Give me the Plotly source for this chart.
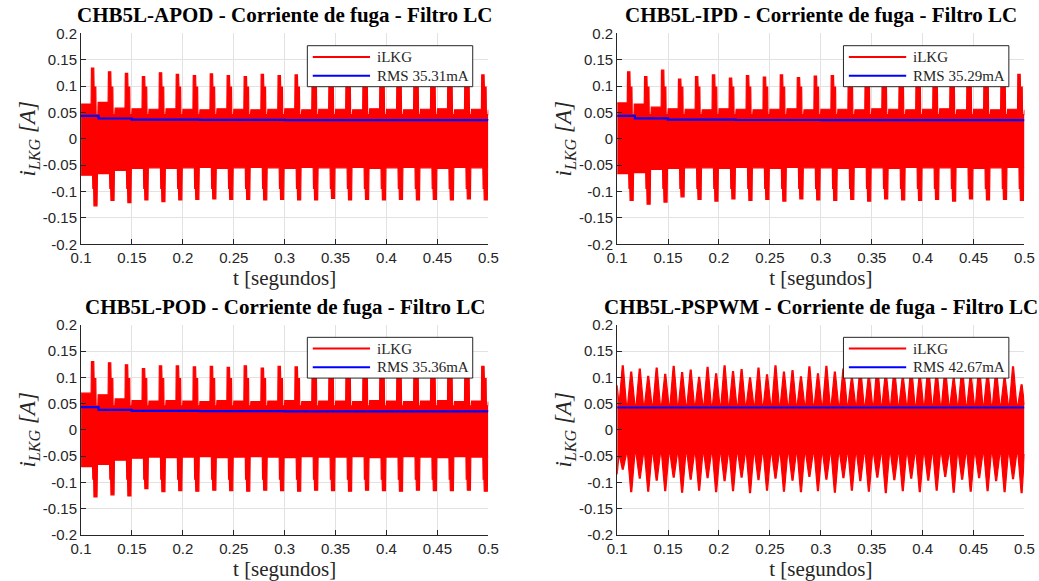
import plotly.graph_objects as go

# ---------------------------------------------------------------- data
T0, T1 = 0.1, 0.5

x_tick_vals = [0.1, 0.15, 0.2, 0.25, 0.3, 0.35, 0.4, 0.45, 0.5]
x_tick_text = ["0.1", "0.15", "0.2", "0.25", "0.3", "0.35", "0.4", "0.45", "0.5"]
y_tick_vals = [-0.2, -0.15, -0.1, -0.05, 0, 0.05, 0.1, 0.15, 0.2]
y_tick_text = ["-0.2", "-0.15", "-0.1", "-0.05", "0", "0.05", "0.1", "0.15", "0.2"]

panel_titles = [
    "CHB5L-APOD - Corriente de fuga - Filtro LC",
    "CHB5L-IPD - Corriente de fuga - Filtro LC",
    "CHB5L-POD - Corriente de fuga - Filtro LC",
    "CHB5L-PSPWM - Corriente de fuga - Filtro LC",
]
signal_name = "iLKG"
rms_names = ["RMS 35.31mA", "RMS 35.29mA", "RMS 35.36mA", "RMS 42.67mA"]

# 60 Hz spike instants (APOD / IPD / POD)
spike_t = [0.1115, 0.1282, 0.1448, 0.1615, 0.1782, 0.1948, 0.2115, 0.2282,
           0.2448, 0.2615, 0.2782, 0.2948, 0.3115, 0.3282, 0.3448, 0.3615,
           0.3782, 0.3948, 0.4115, 0.4282, 0.4448, 0.4615, 0.4782, 0.4948]

# APOD envelope
apod_up_peak = [0.134, 0.127, 0.124, 0.118, 0.125, 0.122, 0.120, 0.123, 0.120, 0.118, 0.122, 0.120,
                0.121, 0.119, 0.122, 0.120, 0.121, 0.119, 0.120, 0.122, 0.119, 0.121, 0.120, 0.121]
apod_lo_peak = [-0.127, -0.117, -0.121, -0.116, -0.119, -0.116, -0.115, -0.114, -0.115, -0.115, -0.116, -0.115,
                -0.116, -0.116, -0.113, -0.116, -0.115, -0.116, -0.115, -0.116, -0.115, -0.116, -0.114, -0.116]
apod_up_base = [0.066, 0.069, 0.058, 0.057, 0.056, 0.057, 0.056, 0.055, 0.057, 0.056, 0.055, 0.056, 0.057,
                0.055, 0.056, 0.056, 0.055, 0.057, 0.056, 0.055, 0.056, 0.057, 0.055, 0.056, 0.055]
apod_lo_base = [-0.069, -0.066, -0.060, -0.056, -0.055, -0.056, -0.055, -0.054, -0.056, -0.055, -0.054, -0.055,
                -0.056, -0.054, -0.055, -0.055, -0.054, -0.056, -0.055, -0.054, -0.055, -0.056, -0.054, -0.055,
                -0.054]
apod_rms_t = [0.1, 0.1172, 0.1498, 0.2165, 0.3, 0.5]
apod_rms = [0.0435, 0.0385, 0.0362, 0.0357, 0.0354, 0.03531]

# IPD envelope
ipd_up_peak = [0.127, 0.118, 0.130, 0.113, 0.118, 0.121, 0.115, 0.120, 0.117, 0.121, 0.116, 0.119,
               0.120, 0.117, 0.121, 0.115, 0.119, 0.120, 0.116, 0.121, 0.118, 0.120, 0.117, 0.122]
ipd_lo_peak = [-0.117, -0.124, -0.120, -0.110, -0.115, -0.118, -0.114, -0.117, -0.115, -0.118, -0.114, -0.116,
               -0.117, -0.115, -0.118, -0.114, -0.116, -0.117, -0.115, -0.118, -0.114, -0.116, -0.115, -0.117]
ipd_up_base = [0.068, 0.066, 0.060, 0.057, 0.056, 0.055, 0.057, 0.056, 0.055, 0.056, 0.057, 0.055, 0.056,
               0.056, 0.055, 0.057, 0.056, 0.055, 0.056, 0.057, 0.055, 0.056, 0.055, 0.056, 0.055]
ipd_lo_base = [-0.066, -0.064, -0.058, -0.056, -0.055, -0.055, -0.056, -0.054, -0.055, -0.056, -0.054, -0.055,
               -0.055, -0.056, -0.054, -0.055, -0.056, -0.054, -0.055, -0.055, -0.054, -0.056, -0.055, -0.054,
               -0.055]
ipd_rms_t = [0.1, 0.1174, 0.1498, 0.2165, 0.3, 0.5]
ipd_rms = [0.0433, 0.0386, 0.0362, 0.0356, 0.0353, 0.03529]

# POD envelope
pod_up_peak = [0.130, 0.128, 0.124, 0.117, 0.122, 0.122, 0.120, 0.121, 0.119, 0.122, 0.118, 0.121,
               0.120, 0.119, 0.121, 0.118, 0.120, 0.121, 0.119, 0.121, 0.118, 0.120, 0.119, 0.121]
pod_lo_peak = [-0.128, -0.124, -0.126, -0.112, -0.118, -0.116, -0.117, -0.115, -0.116, -0.117, -0.115, -0.116,
               -0.117, -0.115, -0.116, -0.117, -0.115, -0.116, -0.117, -0.115, -0.116, -0.116, -0.115, -0.117]
pod_up_base = [0.070, 0.067, 0.059, 0.056, 0.055, 0.056, 0.055, 0.054, 0.056, 0.055, 0.054, 0.055, 0.056,
               0.054, 0.055, 0.055, 0.054, 0.056, 0.055, 0.054, 0.055, 0.056, 0.054, 0.055, 0.054]
pod_lo_base = [-0.070, -0.066, -0.058, -0.054, -0.052, -0.053, -0.052, -0.051, -0.053, -0.052, -0.051, -0.052,
               -0.053, -0.051, -0.052, -0.052, -0.051, -0.053, -0.052, -0.051, -0.052, -0.053, -0.051, -0.052,
               -0.051]
pod_rms_t = [0.1, 0.1172, 0.1498, 0.2165, 0.3, 0.5]
pod_rms = [0.0432, 0.0382, 0.0362, 0.0357, 0.0354, 0.03536]

# PSPWM envelope (120 Hz beat peaks)
ps_peak_t = [0.1055, 0.1138, 0.1222, 0.1305, 0.1388, 0.1472, 0.1555, 0.1638, 0.1722, 0.1805, 0.1888, 0.1972,
             0.2055, 0.2138, 0.2222, 0.2305, 0.2388, 0.2472, 0.2555, 0.2638, 0.2722, 0.2805, 0.2888, 0.2972,
             0.3055, 0.3138, 0.3222, 0.3305, 0.3388, 0.3472, 0.3555, 0.3638, 0.3722, 0.3805, 0.3888, 0.3972,
             0.4055, 0.4138, 0.4222, 0.4305, 0.4388, 0.4472, 0.4555, 0.4638, 0.4722, 0.4805, 0.4888, 0.4972]
ps_up_peak = [0.122, 0.110, 0.116, 0.102, 0.118, 0.106, 0.121, 0.109, 0.114, 0.100, 0.119, 0.107,
              0.122, 0.111, 0.115, 0.099, 0.118, 0.105, 0.122, 0.110, 0.113, 0.101, 0.120, 0.107,
              0.121, 0.110, 0.116, 0.100, 0.117, 0.104, 0.122, 0.109, 0.114, 0.102, 0.119, 0.106,
              0.122, 0.111, 0.115, 0.099, 0.118, 0.105, 0.121, 0.110, 0.113, 0.101, 0.120, 0.086]
ps_lo_peak = [-0.075, -0.118, -0.092, -0.117, -0.096, -0.116, -0.090, -0.119, -0.094, -0.115, -0.091, -0.118,
              -0.097, -0.116, -0.090, -0.120, -0.095, -0.115, -0.092, -0.117, -0.096, -0.118, -0.089, -0.116,
              -0.094, -0.119, -0.091, -0.115, -0.097, -0.117, -0.090, -0.120, -0.095, -0.116, -0.092, -0.118,
              -0.096, -0.115, -0.089, -0.119, -0.094, -0.117, -0.091, -0.116, -0.097, -0.118, -0.093, -0.120]
ps_edge = [0.085, -0.085]          # value at the start of the record
ps_trough = [0.048, -0.046]        # envelope level between beat peaks
ps_rms_t = [0.1, 0.5]
ps_rms = [0.04267, 0.04267]

# ---------------------------------------------------------------- envelope builders
def spiky_envelope(up_peak, up_base, lo_peak, lo_base,
                   up_shoulder=0.098, up_notch=0.046, lo_shoulder=-0.094):
    xu, yu = [T0], [up_base[0]]
    xl, yl = [T0], [lo_base[0]]
    for k, ts in enumerate(spike_t):
        xu += [ts - 0.0016, ts - 0.0013, ts + 0.0010, ts + 0.0013,
               ts + 0.0030, ts + 0.0033, ts + 0.0050, ts + 0.0053]
        yu += [up_base[k], up_peak[k], up_peak[k], up_shoulder,
               up_shoulder, up_notch, up_notch, up_base[k + 1]]
        xl += [ts - 0.0002, ts + 0.0001, ts + 0.0009, ts + 0.0012, ts + 0.0042, ts + 0.0046]
        yl += [lo_base[k], lo_shoulder, lo_shoulder, lo_peak[k], lo_peak[k], lo_base[k + 1]]
    xu.append(T1); yu.append(up_base[-1])
    xl.append(T1); yl.append(lo_base[-1])
    return [min(v, T1) for v in xu], yu, [min(v, T1) for v in xl], yl


def beat_envelope(peak_t, up_peak, lo_peak, edge, trough):
    xu, yu = [T0], [edge[0]]
    xl, yl = [T0], [edge[1]]
    for tp, pu, pl in zip(peak_t, up_peak, lo_peak):
        xs = [min(tp + d, T1) for d in (-0.0036, -0.0005, 0.0005, 0.0036)]
        xu += xs
        yu += [trough[0], pu, pu, trough[0]]
        xl += xs
        yl += [trough[1], pl, pl, trough[1]]
    return xu, yu, xl, yl


envelopes = [
    spiky_envelope(apod_up_peak, apod_up_base, apod_lo_peak, apod_lo_base),
    spiky_envelope(ipd_up_peak, ipd_up_base, ipd_lo_peak, ipd_lo_base),
    spiky_envelope(pod_up_peak, pod_up_base, pod_lo_peak, pod_lo_base),
    beat_envelope(ps_peak_t, ps_up_peak, ps_lo_peak, ps_edge, ps_trough),
]
rms_lines = [(apod_rms_t, apod_rms), (ipd_rms_t, ipd_rms), (pod_rms_t, pod_rms), (ps_rms_t, ps_rms)]

# ---------------------------------------------------------------- figure
RED = "#ff0000"
BLUE = "#0000ff"
INK = "#262626"
GRID = "#e2e2e2"
SERIF = "Liberation Serif"
SANS = "Liberation Sans"

x_domains = [[0.078, 0.470], [0.594, 0.986], [0.078, 0.470], [0.594, 0.986]]
y_domains = [[0.5795, 0.9427], [0.5795, 0.9427], [0.0797, 0.4406], [0.0797, 0.4406]]

fig = go.Figure()
annotations = []
shapes = []

for i in range(4):
    n = "" if i == 0 else str(i + 1)
    xa, ya = "x" + n, "y" + n
    xu, yu, xl, yl = envelopes[i]
    fig.add_trace(go.Scatter(x=xu, y=yu, xaxis=xa, yaxis=ya, mode="lines",
                             line=dict(color=RED, width=1.2), name=signal_name,
                             showlegend=False, hoverinfo="skip"))
    fig.add_trace(go.Scatter(x=xl, y=yl, xaxis=xa, yaxis=ya, mode="lines",
                             line=dict(color=RED, width=1.2), fill="tonexty", fillcolor=RED,
                             name=signal_name, showlegend=False, hoverinfo="skip"))
    rt, rv = rms_lines[i]
    fig.add_trace(go.Scatter(x=rt, y=rv, xaxis=xa, yaxis=ya, mode="lines",
                             line=dict(color=BLUE, width=2.2, shape="hv"),
                             name=rms_names[i], showlegend=False))

    axis_common = dict(showline=True, linecolor=INK, linewidth=1, mirror=False,
                       ticks="inside", ticklen=5, tickcolor=INK, tickwidth=1,
                       showgrid=True, gridcolor=GRID, gridwidth=1, zeroline=False,
                       automargin=False,
                       tickfont=dict(family=SANS, size=15, color=INK))
    fig.layout["xaxis" + n] = dict(
        axis_common, domain=x_domains[i], anchor=ya, range=[T0, T1],
        tickvals=x_tick_vals, ticktext=x_tick_text,
        title=dict(text="t [segundos]", font=dict(family=SERIF, size=21, color=INK), standoff=3))
    fig.layout["yaxis" + n] = dict(
        axis_common, domain=y_domains[i], anchor=xa, range=[-0.2, 0.2],
        tickvals=y_tick_vals, ticktext=y_tick_text,
        title=dict(text="<i>i</i><sub><i>LKG</i></sub><i> [A]</i>",
                   font=dict(family=SERIF, size=23, color=INK), standoff=0))

    # panel title
    annotations.append(dict(
        text=panel_titles[i], xref=xa + " domain", yref=ya + " domain",
        x=0.5, y=1.0, yshift=18, xanchor="center", yanchor="middle", showarrow=False,
        font=dict(family=SERIF, size=21, color="#000000", weight="bold")))

    # legend box
    shapes.append(dict(type="rect", xref=xa + " domain", yref=ya + " domain",
                       x0=0.5556, x1=0.9617, y0=0.7469, y1=0.9412,
                       fillcolor="white", line=dict(color=INK, width=1), layer="above"))
    for color, yy, label in [(RED, 0.8877, signal_name), (BLUE, 0.799, rms_names[i])]:
        shapes.append(dict(type="line", xref=xa + " domain", yref=ya + " domain",
                           x0=0.5689, x1=0.7096, y0=yy, y1=yy,
                           line=dict(color=color, width=2), layer="above"))
        annotations.append(dict(
            text=label, xref=xa + " domain", yref=ya + " domain", x=0.7218, y=yy,
            xanchor="left", yanchor="middle", showarrow=False,
            font=dict(family=SERIF, size=15, color=INK)))

fig.update_layout(
    width=1039, height=581, margin=dict(l=0, r=0, t=0, b=0),
    paper_bgcolor="white", plot_bgcolor="white",
    showlegend=False, annotations=annotations, shapes=shapes,
)

fig.write_html("out.html")
